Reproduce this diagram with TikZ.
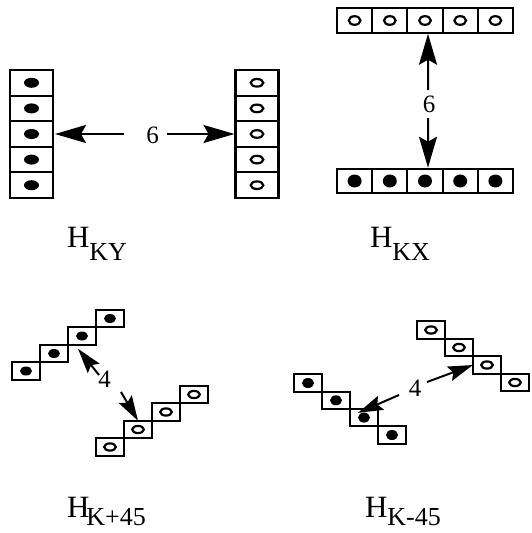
\documentclass[tikz,border=0pt]{standalone}
\usepackage{fontspec}
\setmainfont{Liberation Serif}
\usetikzlibrary{arrows.meta}
\begin{document}
\begin{tikzpicture}[x=1pt,y=-1pt,
  every node/.style={inner sep=0pt, outer sep=0pt},
  cellbox/.style={draw, line width=2.1pt, rectangle},
  vcell/.style={cellbox, minimum width=43pt, minimum height=25.6pt},
  hcell/.style={cellbox, minimum width=35.2pt, minimum height=24.5pt},
  dcell/.style={cellbox, minimum width=28pt, minimum height=17.5pt},
  bigarrow/.style={line width=2pt, -{Stealth[length=31pt,width=18pt,inset=5pt]}},
  diagarrow/.style={line width=2pt, -{Stealth[length=25pt,width=15pt,inset=4pt]}},
  numlabel/.style={font=\fontsize{25}{25}\selectfont},
  hlabel/.style={anchor=base west, font=\fontsize{31}{31}\selectfont},
  opendot/.style={draw, line width=2.2pt},
]
\useasboundingbox (0,0) rectangle (532,533);

% ---------- H_KY ----------
\foreach \i in {1,...,5} {
  \node[vcell] (ky\i) at (31.5, {70+25.6*(\i-0.5)}) {};
  \fill (ky\i) ellipse[x radius=7.5pt, y radius=5pt];
  \node[vcell] (kyr\i) at (257, {70+25.6*(\i-0.5)}) {};
  \draw[opendot] (kyr\i) ellipse[x radius=6.3pt, y radius=3.8pt];
}
\node[numlabel] (sixa) at (152.5,135.5) {6};
\coordinate (sixaL) at (124,134);
\coordinate (sixaR) at (167,134);
\draw[bigarrow] (sixaL) -- ([xshift=2pt]ky3.east);
\draw[bigarrow] (sixaR) -- ([xshift=-1pt]kyr3.west);

% ---------- H_KX ----------
\foreach \i in {1,...,5} {
  \node[hcell] (kxt\i) at ({337+35.2*(\i-0.5)}, 20.5) {};
  \draw[opendot] (kxt\i) ellipse[x radius=5.8pt, y radius=4.3pt];
  \node[hcell] (kxb\i) at ({337+35.2*(\i-0.5)}, 181) {};
  \fill (kxb\i) ellipse[x radius=7pt, y radius=6.5pt];
}
\node[numlabel] (sixb) at (429,104) {6};
\coordinate (sixbT) at (428,90);
\coordinate (sixbB) at (428,118);
\draw[bigarrow] (sixbT) -- ([shift={(3,1)}]kxt3.south);
\draw[bigarrow] (sixbB) -- ([shift={(3,-1)}]kxb3.north);

% ---------- H_K+45 ----------
\foreach \i/\x/\y in {1/26/371, 2/54/353.5, 3/82/336, 4/110/318.5} {
  \node[dcell] (pf\i) at (\x,\y) {};
  \fill (pf\i) ellipse[x radius=6pt, y radius=4.5pt];
}
\foreach \i/\x/\y in {1/110/447, 2/138/429.5, 3/166/412, 4/194/394.5} {
  \node[dcell] (po\i) at (\x,\y) {};
  \draw[opendot] (po\i) ellipse[x radius=5.8pt, y radius=3.6pt];
}
\node[numlabel] (foura) at (104.5,379) {4};
\coordinate (fouraU) at (99,375);
\coordinate (fouraD) at (121,392);
\draw[diagarrow] (fouraU) -- ([shift={(10,4)}]pf3.south west);
\draw[diagarrow] (fouraD) -- (po2.north);

% ---------- H_K-45 ----------
\foreach \i/\x/\y in {1/308/383, 2/336/400.3, 3/364/417.6, 4/392/435} {
  \node[dcell] (mf\i) at (\x,\y) {};
  \fill (mf\i) ellipse[x radius=6pt, y radius=5pt];
}
\foreach \i/\x/\y in {1/431/330, 2/459/347.5, 3/487/365, 4/515/382.5} {
  \node[dcell] (mo\i) at (\x,\y) {};
  \draw[opendot] (mo\i) ellipse[x radius=5.8pt, y radius=3.6pt];
}
\node[numlabel] (fourb) at (415,388.5) {4};
\coordinate (fourbL) at (399,395);
\coordinate (fourbR) at (427,382);
\draw[diagarrow] (fourbL) -- ([shift={(8,4)}]mf3.north west);
\draw[diagarrow] (fourbR) -- (mo3.west);

% ---------- labels ----------
\node[hlabel] (hky) at (67,247) {H\raisebox{-13pt}{\fontsize{26}{26}\selectfont KY}};
\node[hlabel] (hkx) at (370,247) {H\raisebox{-13pt}{\fontsize{26}{26}\selectfont KX}};
\node[hlabel] (hkp) at (67,517) {H\hspace{-3pt}\raisebox{-8pt}{\fontsize{26}{26}\selectfont K+45}};
\node[hlabel] (hkm) at (365,517) {H\raisebox{-8pt}{\fontsize{26}{26}\selectfont K-45}};
\end{tikzpicture}
\end{document}
